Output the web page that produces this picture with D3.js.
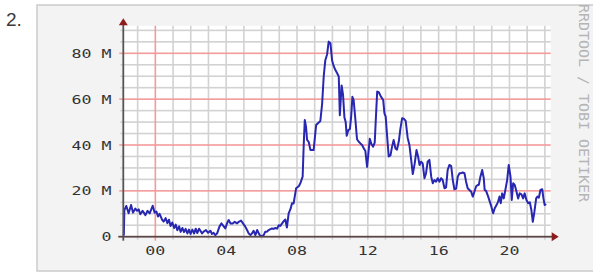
<!DOCTYPE html>
<html><head><meta charset="utf-8">
<script src="https://cdn.jsdelivr.net/npm/d3@7"></script>
<style>html,body{margin:0;padding:0;background:#fff;}svg{display:block;}</style>
</head><body>
<svg id="chart" width="593" height="274"></svg>
<script>
// ---- data (hours relative to midnight, values in millions) ----
const hours = [-1.78,-1.75,-1.64,-1.51,-1.37,-1.26,-1.13,-1.03,-0.94,-0.85,-0.72,-0.56,-0.44,-0.32,-0.15,-0.04,0.06,0.15,0.24,0.38,0.47,0.58,0.68,0.77,0.86,0.96,1.06,1.15,1.24,1.34,1.43,1.53,1.62,1.71,1.81,1.90,1.99,2.09,2.19,2.28,2.37,2.47,2.64,2.73,2.86,2.98,3.11,3.20,3.29,3.39,3.49,3.62,3.73,3.84,3.95,4.05,4.14,4.25,4.37,4.48,4.62,4.71,4.84,4.95,5.08,5.18,5.27,5.37,5.46,5.55,5.65,5.75,5.84,5.93,6.03,6.12,6.21,6.31,6.40,6.50,6.59,6.68,6.78,6.88,6.97,7.06,7.16,7.25,7.34,7.43,7.53,7.63,7.72,7.81,7.95,8.10,8.19,8.32,8.38,8.44,8.51,8.57,8.66,8.76,8.85,8.94,9.08,9.17,9.32,9.42,9.51,9.60,9.70,9.79,9.89,9.98,10.07,10.17,10.27,10.36,10.42,10.52,10.60,10.68,10.75,10.81,10.90,10.99,11.06,11.13,11.20,11.30,11.39,11.49,11.58,11.68,11.77,11.86,11.96,12.05,12.11,12.20,12.30,12.39,12.47,12.53,12.62,12.75,12.87,12.94,13.01,13.09,13.18,13.28,13.37,13.46,13.56,13.65,13.75,13.84,13.94,14.03,14.14,14.25,14.35,14.45,14.54,14.65,14.75,14.84,14.92,15.01,15.10,15.20,15.29,15.38,15.48,15.58,15.67,15.76,15.86,15.95,16.05,16.14,16.23,16.33,16.42,16.51,16.61,16.71,16.80,16.89,16.99,17.08,17.18,17.27,17.36,17.46,17.55,17.64,17.74,17.84,17.93,18.02,18.12,18.21,18.27,18.36,18.46,18.55,18.60,18.68,18.80,18.89,18.98,19.08,19.17,19.27,19.36,19.44,19.51,19.59,19.68,19.77,19.87,19.96,20.06,20.13,20.21,20.30,20.40,20.49,20.58,20.68,20.77,20.86,20.96,21.06,21.15,21.24,21.32,21.41,21.51,21.58,21.66,21.75,21.85,21.92,21.99,22.07];
const values = [0.5,11.6,13.4,10.2,13.8,10.5,12.3,11.3,11.9,9.8,11.3,9.4,11.3,10.2,13.5,10.5,11.0,8.8,10.0,7.4,6.6,8.1,5.9,7.4,4.7,6.2,3.8,5.3,2.8,4.5,2.1,3.8,2.0,3.4,1.4,3.1,1.2,3.1,1.4,3.5,1.6,3.5,1.45,2.2,2.9,1.7,2.6,1.2,1.7,0.7,1.45,4.4,5.8,4.7,3.6,5.8,7.3,5.8,5.8,6.5,5.8,6.5,7.0,5.8,4.4,2.9,1.45,0.7,1.45,2.6,0.7,2.9,1.45,0.3,0.3,0.7,2.2,2.2,2.9,3.3,3.6,3.4,3.8,3.5,5.0,4.7,5.8,6.8,7.5,4.0,10.2,12.0,14.6,14.5,21.1,22.0,23.3,26.2,40.0,50.9,48.0,42.2,41.4,37.8,37.8,37.8,48.7,49.4,50.5,58.0,70.0,77.0,79.5,85.1,84.4,77.0,74.5,72.7,71.3,69.8,53.0,66.0,62.0,52.0,50.0,44.0,46.5,47.0,52.4,61.0,59.6,51.0,42.5,41.4,40.7,40.0,38.5,37.5,30.5,37.8,42.7,40.5,39.3,41.0,54.0,63.3,63.0,61.0,59.6,53.8,52.4,44.0,35.0,35.5,39.3,42.2,38.5,38.0,41.5,47.0,51.7,51.5,50.5,43.2,40.0,33.5,27.3,32.0,37.8,35.0,31.3,32.7,32.0,25.5,27.7,32.7,33.5,26.2,23.3,24.7,24.0,25.5,24.0,25.5,24.7,21.1,21.5,29.1,31.3,30.8,24.7,20.7,21.0,26.2,27.7,27.7,28.0,27.7,24.0,21.1,20.4,19.6,17.5,19.6,22.0,22.6,22.6,26.2,29.1,25.5,20.4,20.0,17.5,15.3,13.1,10.2,12.4,13.8,15.3,17.5,14.6,18.9,16.7,20.4,24.7,31.3,26.2,16.0,23.3,22.6,19.6,16.7,18.9,18.5,16.7,18.9,16.0,14.6,15.0,11.6,6.5,10.9,16.7,17.5,17.0,20.4,20.7,16.7,13.8,14.3];
const yMajorTicks = [0, 20, 40, 60, 80];
const yTickLabels = ["0", "20 M", "40 M", "60 M", "80 M"];
const yMinorTicks = [5,10,15,25,30,35,45,50,55,65,70,75,85,90];
const xMajorTicks = [0];
const xHourTicks = [-1,1,2,3,4,5,6,7,8,9,10,11,12,13,14,15,16,17,18,19,20,21,22];
const xLabelTicks = [0, 4, 8, 12, 16, 20];
const xTickLabels = ["00", "04", "08", "12", "16", "20"];
const title = "2.";
const watermark = "RRDTOOL / TOBI OETIKER";

// ---- layout ----
const svg = d3.select("#chart");
const xs = d3.scaleLinear().domain([-1.81, 22.33]).range([123.3, 550.7]);
const ys = d3.scaleLinear().domain([0, 92]).range([236.7, 25.8]);
const xL = 123.3, xR = 550.7, yB = 236.7, yT = 25.8;

// panel
svg.append("rect").attr("x", 37).attr("y", 5).attr("width", 600).attr("height", 266)
  .attr("fill", "#f3f3f3").attr("stroke", "#cccccc").attr("stroke-width", 1.5);
svg.append("text").attr("x", 6).attr("y", 26).text(title)
  .attr("font-family", "'Liberation Sans', Arial, sans-serif").attr("font-size", 19).attr("fill", "#3a3a3a");

// plot background
svg.append("rect").attr("x", xL).attr("y", yT).attr("width", xR - xL).attr("height", yB - yT).attr("fill", "#ffffff");

// grid as thin filled rectangles
const gridG = svg.append("g");
gridG.selectAll("rect.hmin").data(yMinorTicks).enter().append("rect").attr("class", "hmin")
  .attr("x", xL - 3).attr("width", xR - xL + 3).attr("y", d => ys(d) - 0.8).attr("height", 1.6)
  .attr("fill", "#d2d2d2");
gridG.selectAll("rect.vmin").data(xHourTicks).enter().append("rect").attr("class", "vmin")
  .attr("x", d => xs(d) - 0.8).attr("width", 1.6).attr("y", yT).attr("height", yB - yT + 3)
  .attr("fill", "#d2d2d2");
gridG.selectAll("rect.hmaj").data(yMajorTicks.slice(1)).enter().append("rect").attr("class", "hmaj")
  .attr("x", xL - 4).attr("width", xR - xL + 4).attr("y", d => ys(d) - 0.8).attr("height", 1.6)
  .attr("fill", "#f49a9a");
gridG.selectAll("rect.vmaj").data(xMajorTicks).enter().append("rect").attr("class", "vmaj")
  .attr("x", d => xs(d) - 0.8).attr("width", 1.6).attr("y", yT).attr("height", yB - yT + 4)
  .attr("fill", "#f49a9a");

// data line
const lineGen = d3.line().x((d, i) => xs(hours[i])).y(d => ys(d));
svg.append("path").attr("d", lineGen(values)).attr("fill", "none")
  .attr("stroke", "#2727b2").attr("stroke-width", 2).attr("stroke-linejoin", "round");

// axes
svg.append("rect").attr("x", xL - 0.9).attr("width", 1.8).attr("y", yT - 2).attr("height", yB - yT + 6).attr("fill", "#555");
svg.append("rect").attr("x", xL - 5).attr("width", xR - xL + 7).attr("y", yB - 0.9).attr("height", 1.8).attr("fill", "#5a4646");
svg.append("path").attr("d", `M${xL - 4.5},${yT - 0.5} L${xL + 4.5},${yT - 0.5} L${xL},${yT - 7.5} Z`).attr("fill", "#8e1c1c");
svg.append("path").attr("d", `M${xR + 1},${yB - 4.5} L${xR + 1},${yB + 4.5} L${xR + 8},${yB} Z`).attr("fill", "#8e1c1c");

// labels
const font = "'DejaVu Sans Mono', monospace";
yMajorTicks.forEach((t, i) => {
  svg.append("g").attr("transform", `translate(111.5,${ys(t) + 4.6}) scale(1.3,1)`)
    .append("text").attr("text-anchor", "end").text(yTickLabels[i])
    .attr("font-family", font).attr("font-size", 12.8).attr("fill", "#333");
});
xLabelTicks.forEach((t, i) => {
  svg.append("g").attr("transform", `translate(${xs(t)},${yB + 18}) scale(1.3,1)`)
    .append("text").attr("text-anchor", "middle").text(xTickLabels[i])
    .attr("font-family", font).attr("font-size", 12.8).attr("fill", "#333");
});
svg.append("text").attr("transform", "translate(579,4) rotate(90)")
  .attr("font-family", font).attr("font-size", 13.5).attr("fill", "#b5b5b5")
  .attr("textLength", 198).attr("lengthAdjust", "spacingAndGlyphs").text(watermark);
</script>
</body></html>
